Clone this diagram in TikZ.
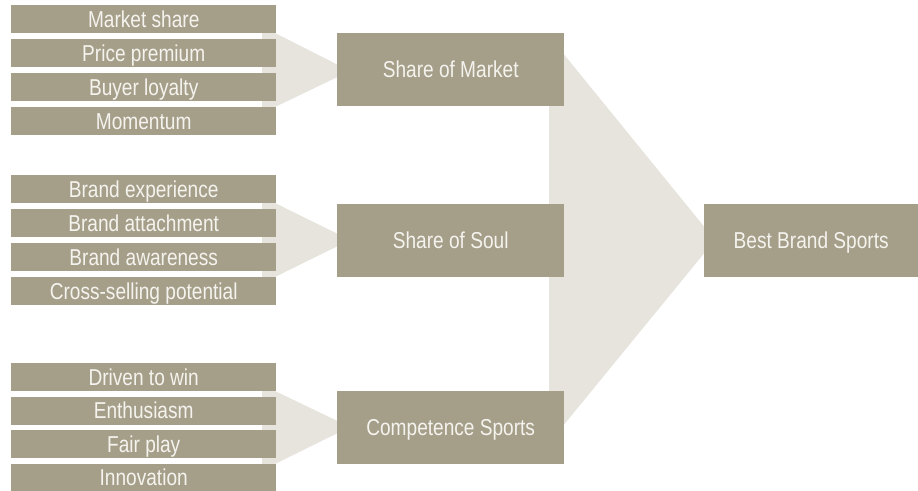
\documentclass[tikz,border=0pt]{standalone}
\usepackage{fontspec}
\setmainfont{Liberation Sans}[FakeStretch=0.83]
\definecolor{boxc}{HTML}{A59F8A}
\definecolor{func}{HTML}{E7E4DD}
\definecolor{txtc}{HTML}{F5F3EE}
\begin{document}
\begin{tikzpicture}[x=1pt,y=-1pt,
  base/.style={fill=boxc,draw=none,inner sep=0pt,anchor=north west,text=txtc,
    font=\fontsize{23}{25}\selectfont,text height=16.3pt,text depth=0pt},
  leftbox/.style={base,minimum width=265pt,minimum height=28pt},
  midbox/.style={base,minimum width=227pt,minimum height=73pt},
  rightbox/.style={base,minimum width=214pt,minimum height=73pt},
  funnel/.style={fill=func,draw=none}]
\useasboundingbox (0,0) rectangle (918,490);
% funnels
\fill[funnel] (549,36) -- (715,240) -- (549,443) -- cycle;
\fill[funnel] (262,33) -- (275,33) -- (350,71) -- (275,107) -- (262,107) -- cycle;
\fill[funnel] (262,203) -- (275,203) -- (350,240) -- (275,277) -- (262,277) -- cycle;
\fill[funnel] (262,391) -- (275,391) -- (350,427) -- (275,464) -- (262,464) -- cycle;
% left boxes
\node[leftbox] (a1) at (11,5) {Market share};
\node[leftbox] (a2) at (11,39) {Price premium};
\node[leftbox] (a3) at (11,73) {Buyer loyalty};
\node[leftbox] (a4) at (11,107) {Momentum};
\node[leftbox] (b1) at (11,175) {Brand experience};
\node[leftbox] (b2) at (11,209) {Brand attachment};
\node[leftbox] (b3) at (11,243) {Brand awareness};
\node[leftbox] (b4) at (11,277) {Cross-selling potential};
\node[leftbox] (c1) at (11,363) {Driven to win};
\node[leftbox] (c2) at (11,396.5) {Enthusiasm};
\node[leftbox] (c3) at (11,430) {Fair play};
\node[leftbox] (c4) at (11,463.5) {Innovation};
% middle boxes
\node[midbox] (m1) at (337,33) {Share of Market};
\node[midbox] (m2) at (337,204) {Share of Soul};
\node[midbox] (m3) at (337,391) {Competence Sports};
% right box
\node[rightbox] (r) at (704,204) {Best Brand Sports};
\end{tikzpicture}
\end{document}
